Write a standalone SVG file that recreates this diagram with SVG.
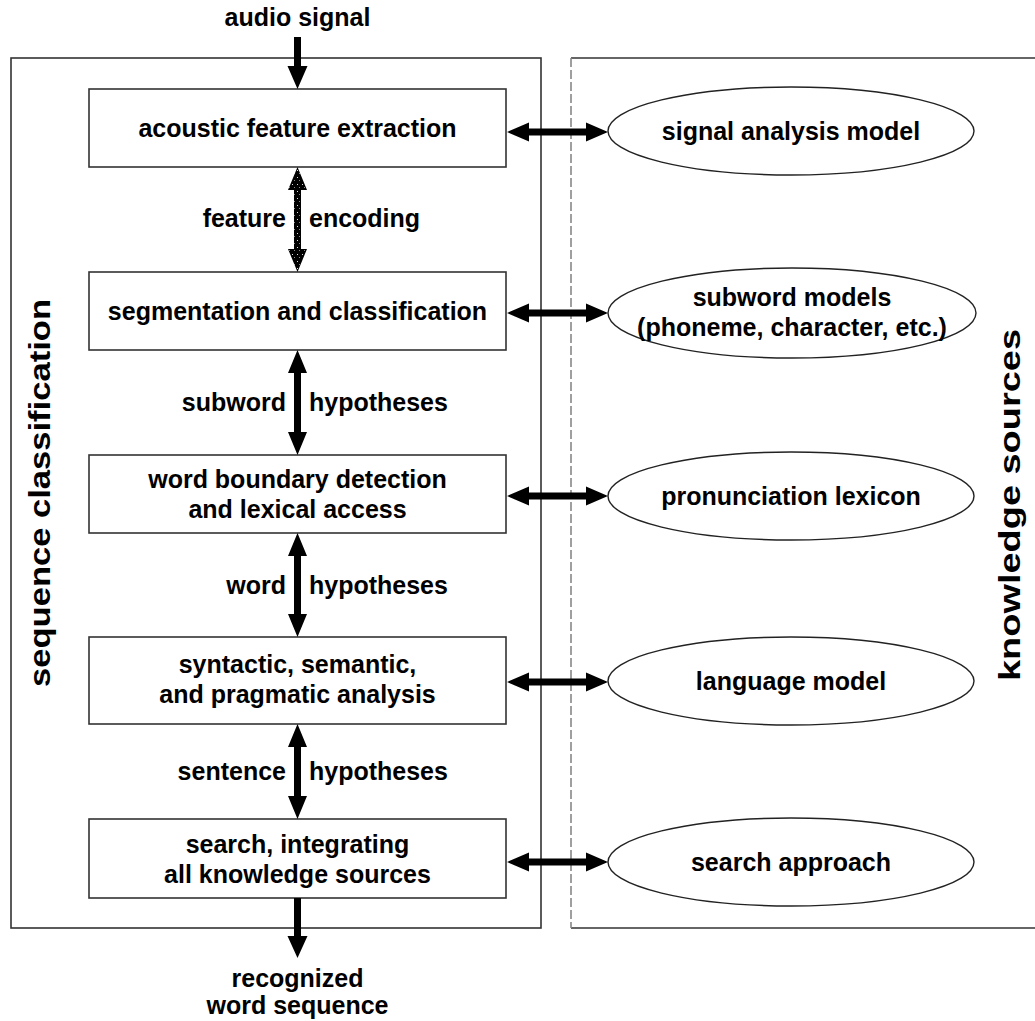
<svg xmlns="http://www.w3.org/2000/svg" width="1035" height="1021" viewBox="0 0 1035 1021">
  <style>
    .frame { fill: none; stroke: #333; stroke-width: 1.6; }
    .box { fill: #fff; stroke: #333; stroke-width: 1.6; }
    .model { fill: #fff; stroke: #222; stroke-width: 1.4; }
    .t { font-family: "Liberation Sans", Arial, sans-serif; font-weight: bold; font-size: 25px; fill: #000; }
    .c { text-anchor: middle; }
    .e { text-anchor: end; }
    .side { font-family: "Liberation Sans", Arial, sans-serif; font-weight: bold; font-size: 29px; fill: #000; text-anchor: middle; }
    .arrow { fill: #000; stroke: none; }
  </style>
  <defs>
    <!-- stippled fill for the feature-encoding arrow -->
    <pattern id="stipple" width="5" height="7" patternUnits="userSpaceOnUse">
      <rect width="5" height="7" fill="#000"/>
      <rect x="2" y="2" width="1" height="1" fill="#ddd"/>
      <rect x="4" y="5" width="1" height="1" fill="#888"/>
    </pattern>
  </defs>

  <rect width="1035" height="1021" fill="#fff"/>

  <!-- outer frames -->
  <g id="frame-sequence">
    <rect class="frame" x="11" y="58" width="530" height="870"/>
    <text class="side" transform="translate(50,493) rotate(-90)" textLength="388" lengthAdjust="spacingAndGlyphs">sequence classification</text>
  </g>
  <g id="frame-knowledge">
    <line x1="571" y1="58" x2="1040" y2="58" stroke="#333" stroke-width="1.6"/>
    <line x1="571" y1="928" x2="1040" y2="928" stroke="#333" stroke-width="1.6"/>
    <line x1="571" y1="58" x2="571" y2="928" stroke="#888" stroke-width="1.6" stroke-dasharray="9 3"/>
    <text class="side" transform="translate(1020,505) rotate(-90)" textLength="352" lengthAdjust="spacingAndGlyphs">knowledge sources</text>
  </g>

  <!-- processing stages -->
  <g id="stage-feature">
    <rect class="box" x="89" y="89" width="417" height="78"/>
    <text class="t c" x="297.5" y="137">acoustic feature extraction</text>
  </g>
  <g id="stage-segmentation">
    <rect class="box" x="89" y="272" width="417" height="78"/>
    <text class="t c" x="297.5" y="320">segmentation and classification</text>
  </g>
  <g id="stage-lexical">
    <rect class="box" x="89" y="455" width="417" height="78"/>
    <text class="t c" x="297.5" y="488">word boundary detection</text>
    <text class="t c" x="297.5" y="518">and lexical access</text>
  </g>
  <g id="stage-analysis">
    <rect class="box" x="89" y="637" width="417" height="87"/>
    <text class="t c" x="297.5" y="673">syntactic, semantic,</text>
    <text class="t c" x="297.5" y="703">and pragmatic analysis</text>
  </g>
  <g id="stage-search">
    <rect class="box" x="89" y="819" width="417" height="79"/>
    <text class="t c" x="297.5" y="853">search, integrating</text>
    <text class="t c" x="297.5" y="883">all knowledge sources</text>
  </g>

  <!-- knowledge source models -->
  <g id="model-signal">
    <ellipse class="model" cx="791" cy="131" rx="183" ry="44"/>
    <text class="t c" x="791" y="140">signal analysis model</text>
  </g>
  <g id="model-subword">
    <ellipse class="model" cx="792" cy="313" rx="184" ry="45"/>
    <text class="t c" x="792" y="306">subword models</text>
    <text class="t c" x="792" y="336">(phoneme, character, etc.)</text>
  </g>
  <g id="model-lexicon">
    <ellipse class="model" cx="791" cy="496" rx="183" ry="44"/>
    <text class="t c" x="791" y="505">pronunciation lexicon</text>
  </g>
  <g id="model-language">
    <ellipse class="model" cx="791" cy="681" rx="183" ry="44"/>
    <text class="t c" x="791" y="690">language model</text>
  </g>
  <g id="model-search">
    <ellipse class="model" cx="791" cy="862" rx="183" ry="44"/>
    <text class="t c" x="791" y="871">search approach</text>
  </g>

  <!-- connectors -->
  <g id="connectors">
    <!-- input / output -->
    <polygon class="arrow" points="294,37 301,37 301,66 307.5,66 297.5,89 287.5,66 294,66"/>
    <polygon class="arrow" points="294,898 301,898 301,936 307.5,936 297.5,958 287.5,936 294,936"/>

    <!-- stage to stage -->
    <polygon fill="url(#stipple)" points="297.5,167 307,190 301,190 301,249 307,249 297.5,272 288,249 294,249 294,190 288,190"/>
    <polygon class="arrow" points="297.5,350 307,373 301,373 301,432 307,432 297.5,455 288,432 294,432 294,373 288,373"/>
    <polygon class="arrow" points="297.5,533 307,556 301,556 301,614 307,614 297.5,637 288,614 294,614 294,556 288,556"/>
    <polygon class="arrow" points="297.5,724 307,747 301,747 301,796 307,796 297.5,819 288,796 294,796 294,747 288,747"/>

    <!-- stage to model -->
    <polygon class="arrow" points="507,132 529,122.5 529,128.5 586,128.5 586,122.5 608,132 586,141.5 586,135.5 529,135.5 529,141.5"/>
    <polygon class="arrow" points="507,313 529,303.5 529,309.5 586,309.5 586,303.5 608,313 586,322.5 586,316.5 529,316.5 529,322.5"/>
    <polygon class="arrow" points="507,496 529,486.5 529,492.5 586,492.5 586,486.5 608,496 586,505.5 586,499.5 529,499.5 529,505.5"/>
    <polygon class="arrow" points="507,682 529,672.5 529,678.5 586,678.5 586,672.5 608,682 586,691.5 586,685.5 529,685.5 529,691.5"/>
    <polygon class="arrow" points="507,862 529,852.5 529,858.5 586,858.5 586,852.5 608,862 586,871.5 586,865.5 529,865.5 529,871.5"/>

    <!-- connector labels -->
    <text class="t c" x="297.5" y="26">audio signal</text>
    <text class="t e" x="286" y="227">feature</text>
    <text class="t" x="309" y="227">encoding</text>
    <text class="t e" x="286" y="411">subword</text>
    <text class="t" x="309" y="411">hypotheses</text>
    <text class="t e" x="286" y="594">word</text>
    <text class="t" x="309" y="594">hypotheses</text>
    <text class="t e" x="286" y="780">sentence</text>
    <text class="t" x="309" y="780">hypotheses</text>
    <text class="t c" x="297.5" y="987">recognized</text>
    <text class="t c" x="297.5" y="1014">word sequence</text>
  </g>
</svg>
